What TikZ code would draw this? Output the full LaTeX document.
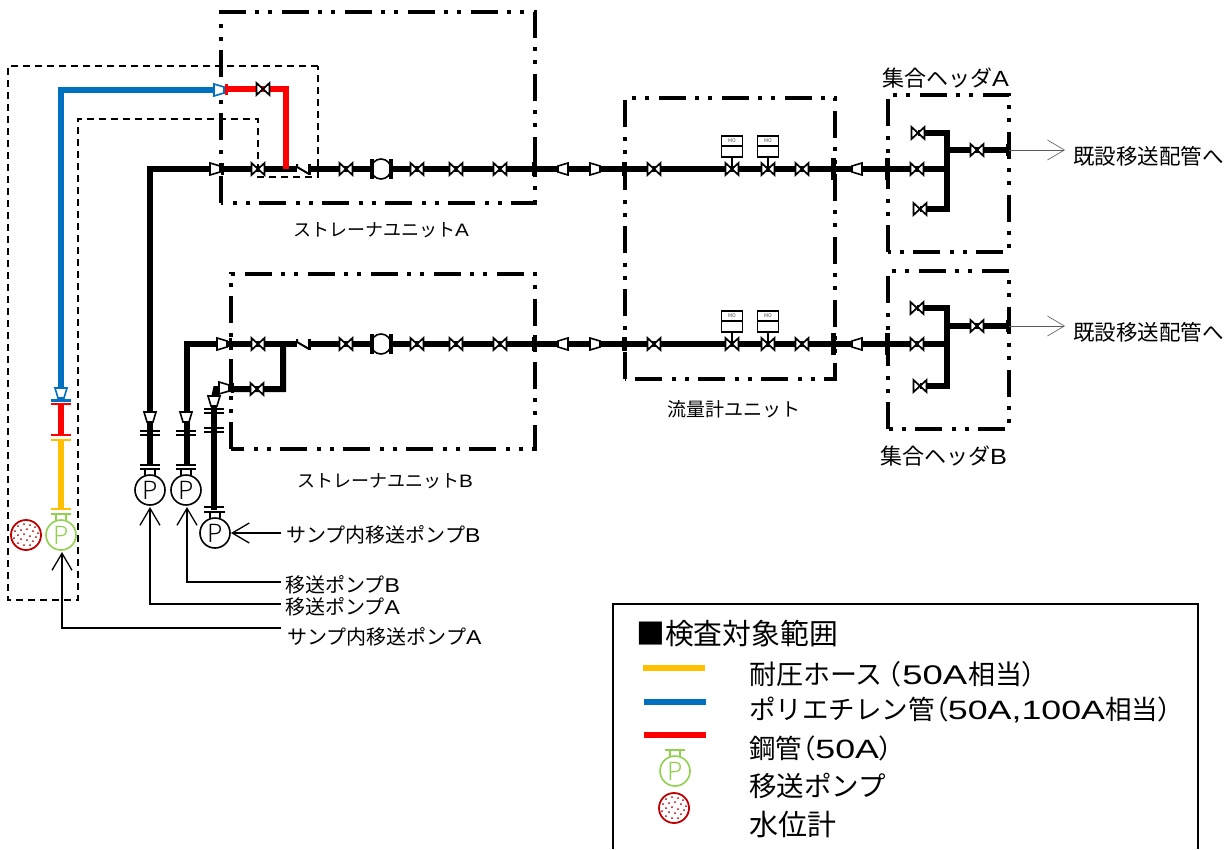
\documentclass[tikz,border=0pt]{standalone}
\usepackage{fontspec}
\setmainfont{Noto Sans CJK JP}
\newfontfamily\pfont{Noto Sans CJK JP Light}
\newfontfamily\wlfont{Liberation Sans}[FakeStretch=1.35]
\newfontfamily\nlfont{Liberation Sans}[FakeStretch=1.15]
\newfontfamily\parfont{Noto Sans CJK JP}[RawFeature={+palt}]
\newcommand{\lpar}{{\parfont （}}
\newcommand{\rpar}{{\parfont ）}}
\usetikzlibrary{arrows.meta}
\definecolor{cblue}{HTML}{0070C0}
\definecolor{cred}{HTML}{FF0000}
\definecolor{cyel}{HTML}{FFC000}
\definecolor{cgrn}{HTML}{92D050}
\definecolor{cdred}{HTML}{C00000}
\tikzset{
  x=1pt,y=-1pt,
  pipe/.style={line width=6pt,line join=miter,line cap=butt},
  unitbox/.style={line width=3.2pt,dash pattern=on 27pt off 9pt on 4pt off 9pt on 4pt off 10pt},
  scopebox/.style={line width=1.6pt,dash pattern=on 7pt off 5pt},
  leader/.style={line width=1.3pt,-{Straight Barb[length=17pt,width=20pt,line width=1.3pt]}},
  outarrow/.style={line width=.6pt,draw=black!65,-{Straight Barb[length=17pt,width=20pt,line width=.6pt]}},
  lab/.style={anchor=west,inner sep=0pt,font=\fontsize{#1pt}{#1pt}\selectfont},
  leglab/.style={anchor=west,inner sep=0pt,font=\fontsize{#1pt}{#1pt}\selectfont},
  legline/.style={line width=6pt},
  pics/valve/.style={code={\draw[line width=1.7pt,fill=white] (-6.5,-6)--(6.5,6)--(6.5,-6)--(-6.5,6)--cycle;}},
  pics/reducer/.style={code={\draw[line width=1.6pt,fill=white,draw=#1] (-5,-6)--(5,-3)--(5,3)--(-5,6)--cycle;}},
  pics/reducer/.default=black,
  pics/flangeV/.style={code={\fill (-2.5,-#1)rectangle(2.5,#1);}},
  pics/flangeH/.style={code={\fill[#1] (-10,-1.2)rectangle(10,1.2);}},
  pics/flangeH/.default=black,
  pics/checkv/.style={code={\fill[white] (-6,-3.2)rectangle(6,3.2);
     \draw[line width=2pt] (-6,-5)--(-6,-2)--(6,5);\fill (5,-5)rectangle(7.5,5.5);}},
  pics/strainer/.style={code={\draw[line width=1.6pt,fill=white] (0,0) circle[radius=10];
     \fill (-11.5,-10)rectangle(-7.5,10);\fill (7.5,-10)rectangle(11.5,10);}},
  pics/mo/.style={code={\draw[line width=1.7pt] (0,0)--(0,-12);
     \draw[line width=1.7pt,fill=white] (-10.5,-33)rectangle(10.5,-12);\draw[line width=1.7pt] (-10.5,-23)--(10.5,-23);
     \node[inner sep=0pt,text=black!70,font=\fontsize{5pt}{5pt}\selectfont] at (0,-28) {MO};
     \draw[line width=1.7pt,fill=white] (-6.5,-6)--(6.5,6)--(6.5,-6)--(-6.5,6)--cycle;}},
  pics/pump/.style={code={
     \draw[#1,line width=1.5pt] (-5,-15)--(-5,-21)--(5,-21)--(5,-15);
     \fill[#1] (-10,-22.2)rectangle(10,-19.8);
     \draw[#1,line width=1.6pt,fill=white] (0,0) circle[radius=15];
     \node[inner sep=0pt,text=#1,font=\pfont\fontsize{25pt}{25pt}\selectfont] at (0,0) {P};}},
  pics/gauge/.style={code={
     \draw[cdred,line width=1.8pt,fill=white] (0,0) circle[radius=15];
     \foreach \dx/\dy in {-8/-9,-2/-11,4/-10,9/-8,-11/-4,-5/-5,1/-6,7/-4,12/-2,-8/0,-2/-1,4/1,10/2,-12/3,-5/4,1/5,7/6,-8/8,-2/10,4/10}
       \fill[cdred] (\dx,\dy) circle[radius=1];}},
}
\begin{document}
\begin{tikzpicture}
\useasboundingbox (0,0) rectangle (1229,849);
% unit frames
\draw[unitbox] (221,203)--(221,12)--(535,12)--(535,203)--cycle;
\draw[unitbox] (625,379)--(625,98)--(835,98)--(835,379)--cycle;
\draw[unitbox] (888,252)--(888,95)--(1009,95)--(1009,252)--cycle;
\draw[unitbox] (888,429)--(888,271)--(1009,271)--(1009,429)--cycle;
\draw[unitbox] (231,449)--(231,274)--(535,274)--(535,449)--cycle;
% inspected range
\draw[scopebox] (318,66)--(8,66)--(8,600)--(78,600)--(78,119)--(258,119)--(258,177)--(318,177)--cycle;
% named pipe points
\coordinate (aS) at (150,412);\coordinate (aC) at (150,169);\coordinate (aE) at (947,169);
\coordinate (hAt) at (947,133);\coordinate (hAb) at (947,209);
\coordinate (hAtv) at (918,133);\coordinate (hAbv) at (920,209);
\coordinate (hAm) at (947,150);\coordinate (hAo) at (1009,150);\coordinate (hAa) at (1065,150);
\coordinate (bS) at (187,412);\coordinate (bC) at (187,344);\coordinate (bE) at (947,344);
\coordinate (hBt) at (947,308);\coordinate (hBb) at (947,386);
\coordinate (hBtv) at (917,308);\coordinate (hBbv) at (920,386);
\coordinate (hBm) at (947,326);\coordinate (hBo) at (1009,326);\coordinate (hBa) at (1065,326);
\coordinate (j1) at (283,344);\coordinate (j2) at (283,389);\coordinate (j3) at (216,389);\coordinate (j4) at (214,398);
% pipes
\draw[pipe] (aS)--(aC)--(aE);
\draw[pipe] (hAtv)--(hAt)--(hAb)--(hAbv);
\draw[pipe] (hAm)--(hAo);
\draw[pipe] (bS)--(bC)--(bE);
\draw[pipe] (hBtv)--(hBt)--(hBb)--(hBbv);
\draw[pipe] (hBm)--(hBo);
\draw[pipe] (j1)--(j2)--(j3)--(j4);
\coordinate (p3t) at (214,400);\coordinate (p3b) at (214,510);
\draw[pipe] (p3t)--(p3b);
\coordinate (p1t) at (150,420);\coordinate (p1b) at (150,466);
\draw[pipe] (p1t)--(p1b);
\coordinate (p2t) at (187,420);\coordinate (p2b) at (187,466);
\draw[pipe] (p2t)--(p2b);
% coloured pipes
\coordinate (blS) at (61,390);\coordinate (blC) at (61,90);\coordinate (blE) at (217,90);
\draw[pipe,cblue] (blS)--(blC)--(blE);
\coordinate (reS) at (227,89);\coordinate (reC) at (286,89);\coordinate (reE) at (286,169);
\draw[pipe,cred] (reS)--(reC)--(reE);
\coordinate (rvT) at (61,404);\coordinate (rvB) at (61,435);
\draw[pipe,cred] (rvT)--(rvB);
\coordinate (yeT) at (61,440);\coordinate (yeB) at (61,509);
\draw[pipe,cyel] (yeT)--(yeB);
% line fittings
\foreach \ly in {169,344}{
  \foreach \vx in {258,346,417,456,500,654,802,917} \pic at (\vx,\ly) {valve};
  \pic at (303,\ly) {checkv};
  \pic at (381,\ly) {strainer};
  \pic at (534,\ly) {flangeV=7};
  \pic at (624,\ly) {flangeV=7};
  \pic at (833,\ly) {flangeV=11};
  \pic at (887,\ly) {flangeV=11};
  \pic[rotate=180] at (563,\ly) {reducer};
  \pic at (595,\ly) {reducer};
  \pic[rotate=180] at (857,\ly) {reducer};
  \pic at (732,\ly) {mo};
  \pic at (768,\ly) {mo};
}
\pic at (215,169) {reducer};
\fill (221,163) rectangle (224,175);
\pic at (222,344) {reducer};
\fill (229,338) rectangle (232,350);
\pic at (263,89) {valve};
\pic at (977,150) {valve};
\pic at (977,326) {valve};
\pic at (hAtv) {valve};
\pic at (hAbv) {valve};
\pic at (hBtv) {valve};
\pic at (hBbv) {valve};
\fill (1006,144) rectangle (1011,156);
\fill (1006,320) rectangle (1011,332);
\pic at (257,389) {valve};
\pic at (224,388) {reducer};
\fill (231,383) rectangle (234,393);
\pic[rotate=-90] at (214,401) {reducer};
\pic at (219,90) {reducer=cblue};
\fill[cred] (225,84) rectangle (228,95);
% vertical fittings
\pic[rotate=-90] at (150,417) {reducer};
\pic[rotate=-90] at (186,417) {reducer};
\foreach \fx/\fy in {150/431,150/435,150/465,186/431,186/435,186/465,214/409,214/413,214/428,214/432,214/507,214/512} \pic at (\fx,\fy) {flangeH};
\pic[rotate=-90] at (61,393) {reducer=cblue};
\pic at (61,400.5) {flangeH=cblue};
\pic at (61,404) {flangeH=cred};
\pic at (61,435) {flangeH=cred};
\pic at (61,440) {flangeH=cyel};
\pic at (61,509) {flangeH=cyel};
% pumps
\pic (pa) at (150,490) {pump=black};
\pic (pb) at (186,490) {pump=black};
\pic (pc) at (215,533) {pump=black};
\pic (pd) at (61,535) {pump=cgrn};
\pic (gd) at (26,535) {gauge};
% outlet arrows
\draw[outarrow] (hAo)--(hAa);
\draw[outarrow] (hBo)--(hBa);
\node[lab=21.5] (outA) at (1073,156) {既設移送配管へ};
\node[lab=21.5] (outB) at (1073,332) {既設移送配管へ};
% unit labels
\node[lab=18] (suA) at (293,230) {ストレーナユニット{\nlfont A}};
\node[lab=18] (suB) at (297,481) {ストレーナユニット{\nlfont B}};
\node[lab=19] (fu) at (667,409) {流量計ユニット};
\node[lab=22] (hdA) at (882,78) {集合ヘッダ{\nlfont A}};
\node[lab=22] (hdB) at (880,456) {集合ヘッダ{\nlfont B}};
% pump labels
\node[lab=20] (lc) at (286,535) {サンプ内移送ポンプ{\nlfont B}};
\node[lab=20] (lb) at (285,585) {移送ポンプ{\nlfont B}};
\node[lab=20] (la) at (285,607) {移送ポンプ{\nlfont A}};
\node[lab=20] (ld) at (287,637) {サンプ内移送ポンプ{\nlfont A}};
\coordinate (lc0) at (281,533);\coordinate (hpc) at (231,533);
\draw[leader] (lc0)--(hpc);
\coordinate (ctb) at (187,582);\coordinate (cta) at (150,604);\coordinate (ctd) at (62,628);
\coordinate (lb0) at (281,582);\coordinate (la0) at (281,604);\coordinate (ld0) at (281,628);
\coordinate (hpb) at (187,507);\coordinate (hpa) at (150,507);\coordinate (hpd) at (62,552);
\draw[leader] (lb0)--(ctb)--(hpb);
\draw[leader] (la0)--(cta)--(hpa);
\draw[leader] (ld0)--(ctd)--(hpd);
% legend
\coordinate (lg1) at (613,849);\coordinate (lg2) at (613,604);\coordinate (lg3) at (1198,604);\coordinate (lg4) at (1198,849);
\draw[line width=1.6pt] (lg1)--(lg2)--(lg3)--(lg4);
\node[leglab=28.8] (lgt) at (636,634) {■検査対象範囲};
\coordinate (ly1) at (643,668);\coordinate (ly2) at (705,668);
\coordinate (lb1) at (644,702);\coordinate (lb2) at (706,702);
\coordinate (lr1) at (644,735);\coordinate (lr2) at (706,735);
\draw[legline,cyel] (ly1)--(ly2);
\draw[legline,cblue] (lb1)--(lb2);
\draw[legline,cred] (lr1)--(lr2);
\pic (lgp) at (675,771) {pump=cgrn};
\pic (lgg) at (674,808) {gauge};
\node[leglab=27] (lg-a) at (749,674) {耐圧ホース\hspace{4pt}\lpar\hspace{2pt}{\wlfont 50A}\hspace{1pt}相当\rpar};
\node[leglab=26.5] (lg-b) at (749,710) {ポリエチレン管\lpar{\wlfont 50A,100A}相当\rpar};
\node[leglab=26.5] (lg-c) at (749,748) {鋼管\lpar{\wlfont 50A}\rpar};
\node[leglab=27.5] (lg-d) at (749,786) {移送ポンプ};
\node[leglab=29] (lg-e) at (749,825) {水位計};
\end{tikzpicture}
\end{document}
